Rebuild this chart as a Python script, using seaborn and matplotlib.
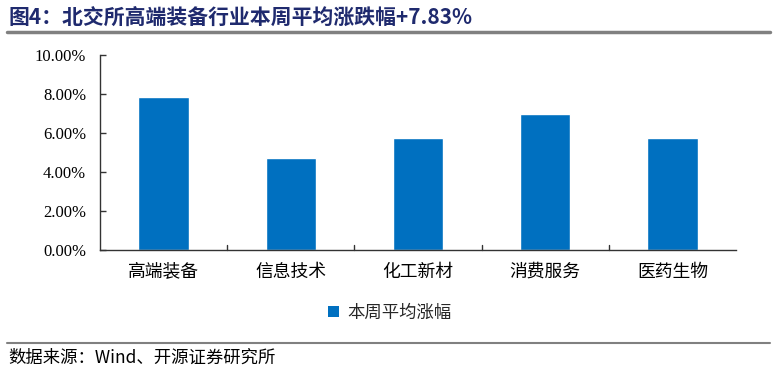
import matplotlib
matplotlib.use("Agg")
import matplotlib.pyplot as plt
import seaborn as sns
import pandas as pd
import numpy as np
from matplotlib.lines import Line2D
from matplotlib.patches import Patch

categories = ["高端装备", "信息技术", "化工新材", "消费服务", "医药生物"]
values = [7.83, 4.73, 5.73, 6.96, 5.74]
yticks = [0, 2, 4, 6, 8, 10]
series_name = "本周平均涨幅"
title = "图4：北交所高端装备行业本周平均涨跌幅+7.83%"
source = "数据来源：Wind、开源证券研究所"

sns.set_theme(style="white")
plt.rcParams['font.family'] = ['Noto Sans CJK SC', 'DejaVu Sans']

df = pd.DataFrame({"cat": categories, "val": values})

W, H = 774, 373
fig = plt.figure(figsize=(W / 100, H / 100), dpi=100)
ax = fig.add_axes([100 / W, (H - 250) / H, 636 / W, 195 / H])

sns.barplot(data=df, x="cat", y="val", color="#0070C0", width=0.395,
            saturation=1, ax=ax)
ax.set_ylim(0, 10)
ax.set_xlim(-0.5, len(categories) - 0.5)
ax.set_xlabel("")
ax.set_ylabel("")
ax.set_yticks(yticks)
ax.set_yticklabels([f"{v:.2f}%" for v in yticks], family="Liberation Serif",
                   fontsize=12, color="black")
ax.set_xticks(range(len(categories)))
ax.set_xticklabels(categories, fontsize=12.8, color="black",
                   family=["Noto Sans CJK SC"])
ax.tick_params(axis="x", length=0, pad=9)
ax.tick_params(axis="y", direction="in", length=4, width=1, left=True,
               color="#333333", pad=10)
# category boundary ticks
for b in np.arange(0.5, len(categories) - 0.5, 1):
    ax.plot([b, b], [0, 0.25], color="#333333", lw=1, clip_on=False)
for s in ["top", "right"]:
    ax.spines[s].set_visible(False)
for s in ["left", "bottom"]:
    ax.spines[s].set_color("#333333")
    ax.spines[s].set_linewidth(1)

# legend
leg = fig.legend(handles=[Patch(facecolor="#0070C0", edgecolor="none",
                                label=series_name)],
                 loc="center", bbox_to_anchor=(390 / W, 1 - 313 / H),
                 frameon=False, fontsize=12.5, handlelength=0.6,
                 handleheight=0.6, handletextpad=0.5)

# title
fig.text(8 / W, 1 - 17 / H, title, fontsize=15, fontweight="bold",
         color="#1F2A6E", va="center", ha="left")
fig.add_artist(Line2D([7 / W, 770 / W], [1 - 32 / H, 1 - 32 / H],
                      color="#808080", lw=2.5))
# footer
fig.add_artist(Line2D([7 / W, 770 / W], [1 - 343 / H, 1 - 343 / H],
                      color="#808080", lw=1.5))
fig.text(8 / W, 1 - 358 / H, source, fontsize=12.5, color="black",
         va="center", ha="left",
         family=["Noto Sans CJK SC", "Liberation Serif"])

fig.savefig("out.png", dpi=100)
